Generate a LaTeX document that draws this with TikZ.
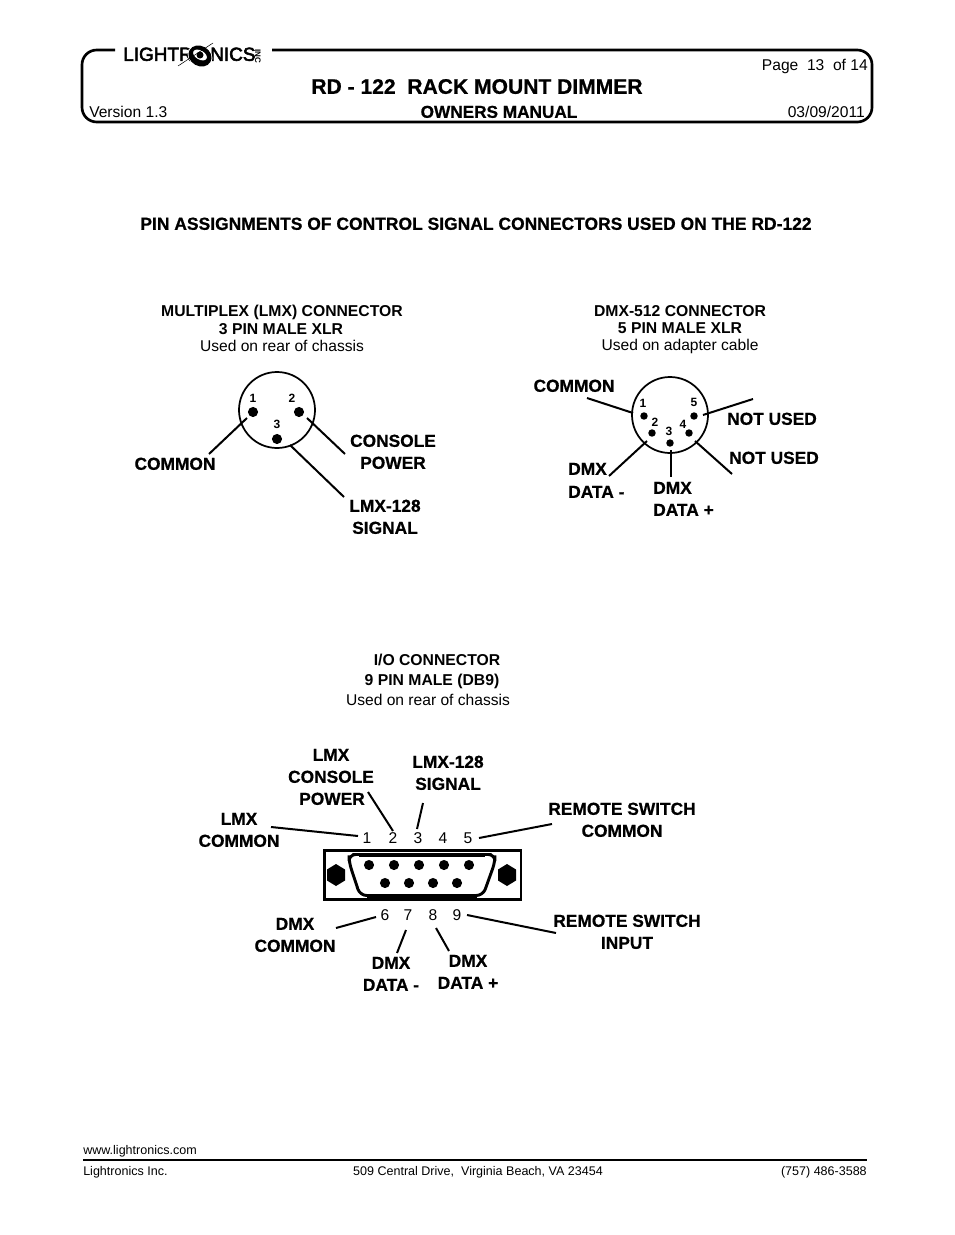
\documentclass[tikz,border=0pt]{standalone}
\usepackage{fontspec}
\setmainfont{Liberation Sans}
\newfontfamily\hb[FakeBold=0.7]{Liberation Sans Bold}
\newfontfamily\logof[FakeBold=3]{Liberation Sans}
\tikzset{
 x=0.75pt,y=-0.75pt,
 lead/.style={line width=1.5pt,line cap=butt},
 tb0/.style={inner sep=0pt,text height=.72em,text depth=0pt},
 tb/.style={tb0,yshift=-0.75pt},
 txt/.style={tb,font=\fontsize{11.7}{13}\selectfont,text=black},
 hd/.style={tb,font=\fontsize{11.8}{13}\selectfont\bfseries},
 lab/.style={tb,font=\fontsize{13}{14}\selectfont\hb},
 foot/.style={tb,font=\fontsize{9.4}{10}\selectfont},
 pinno/.style={tb0,font=\fontsize{9}{10}\selectfont\bfseries},
 dbno/.style={tb,font=\fontsize{11.7}{13}\selectfont},
 pin/.style={fill=black,circle,inner sep=0pt},
 shellc/.style={draw=black,line width=1.3pt,circle,inner sep=0pt,minimum size=57pt},
 hexa/.style={fill=black},
}
\begin{document}
\begin{tikzpicture}
\useasboundingbox (0,0) rectangle (954,1235);
% header frame
\coordinate (fa) at (115,50);
\coordinate (fb) at (272,50);
\draw[line width=2pt,rounded corners=11pt] (fa) -- (82,50) -- (82,122) -- (872,122) -- (872,50) -- (fb);
% logo
\node[tb0,anchor=west,font=\fontsize{14.2}{15}\selectfont\logof] (lg1) at (123,56) {LIGHTR};
\node[tb0,anchor=west,font=\fontsize{14.2}{15}\selectfont\logof] (lg2) at (210,56) {NICS};
\node[tb0,rotate=-90,font=\fontsize{6}{6}\selectfont\bfseries] (lg3) at (260,56) {INC};
\fill[white,rotate around={-30:(200,56)}] (200,56) ellipse (13 and 10.5);
\fill[black,rotate around={-30:(200,56)}] (200,56) ellipse (12 and 10);
\fill[white,rotate around={-30:(200,55)}] (200,55) ellipse (7.5 and 4.5);
\fill[black] (200,55) circle (3.5);
\draw[line width=0.4pt] (178,66) -- (213,43);
% header text
\node[txt,anchor=east] (pg) at (868,65) {Page\ \ 13\ \ of 14};
\node[tb,font=\fontsize{15.8}{17}\selectfont\hb] (ttl) at (477,88) {RD - 122\ \ RACK MOUNT DIMMER};
\node[txt,anchor=west] (ver) at (89,112) {Version 1.3};
\node[tb,font=\fontsize{12.9}{14}\selectfont\hb] (om) at (499,112) {OWNERS MANUAL};
\node[txt,anchor=east] (dt) at (865,112) {03/09/2011};
\node[tb,font=\fontsize{13.1}{14}\selectfont\hb] (pa) at (476,224) {PIN ASSIGNMENTS OF CONTROL SIGNAL CONNECTORS USED ON THE RD-122};
% LMX titles
\node[hd] (m1) at (282,311) {MULTIPLEX (LMX) CONNECTOR};
\node[hd] (m2) at (281,329) {3 PIN MALE XLR};
\node[txt] (m3) at (282,346) {Used on rear of chassis};
% DMX titles
\node[hd] (d1) at (680,311) {DMX-512 CONNECTOR};
\node[hd] (d2) at (680,328) {5 PIN MALE XLR};
\node[txt] (d3) at (680,345) {Used on adapter cable};
% IO titles
\node[hd] (i1) at (437,660) {I/O CONNECTOR};
\node[hd] (i2) at (432,680) {9 PIN MALE (DB9)};
\node[txt] (i3) at (428,700) {Used on rear of chassis};
% XLR3
\node[shellc] (x3) at (277,410) {};
\foreach \n/\x/\y in {p1/253/412,p2/299/412,p3/277/439}
  \node[pin,minimum size=7.6pt] (\n) at (\x,\y) {};
\node[pinno] (n1) at (253,398) {1};
\node[pinno] (n2) at (292,398) {2};
\node[pinno] (n3) at (277,424) {3};
\coordinate (a1) at (247,418); \coordinate (a2) at (209,454);
\coordinate (b1) at (307,418); \coordinate (b2) at (345,454);
\coordinate (c1) at (290,445); \coordinate (c2) at (344,497);
\draw[lead] (a1)--(a2); \draw[lead] (b1)--(b2); \draw[lead] (c1)--(c2);
\node[lab] (l1) at (175,464) {COMMON};
\node[lab] (l2) at (393,441) {CONSOLE};
\node[lab] (l3) at (393,463) {POWER};
\node[lab] (l4) at (385,506) {LMX-128};
\node[lab] (l5) at (385,528) {SIGNAL};
% XLR5
\node[shellc] (x5) at (670,415) {};
\foreach \n/\x/\y in {q1/644/416,q2/652/433,q3/670/443,q4/689/433,q5/694/416}
  \node[pin,minimum size=5.6pt] (\n) at (\x,\y) {};
\node[pinno] (r1) at (643,403) {1};
\node[pinno] (r2) at (655,422) {2};
\node[pinno] (r3) at (669,431) {3};
\node[pinno] (r4) at (683,424) {4};
\node[pinno] (r5) at (694,402) {5};
\coordinate (e1) at (587,398); \coordinate (e2) at (633,413);
\coordinate (f1) at (703,415); \coordinate (f2) at (753,399);
\coordinate (g1) at (695,441); \coordinate (g2) at (732,474);
\coordinate (h1) at (671,450); \coordinate (h2) at (671,477);
\coordinate (j1) at (647,441); \coordinate (j2) at (609,476);
\draw[lead] (e1)--(e2); \draw[lead] (f1)--(f2); \draw[lead] (g1)--(g2); \draw[lead] (h1)--(h2); \draw[lead] (j1)--(j2);
\node[lab] (s1) at (574,386) {COMMON};
\node[lab] (s2) at (772,419) {NOT USED};
\node[lab] (s3) at (774,458) {NOT USED};
\node[lab,anchor=west] (s4) at (568,469) {DMX};
\node[lab,anchor=west] (s5) at (568,492) {DATA -};
\node[lab,anchor=west] (s6) at (653,488) {DMX};
\node[lab,anchor=west] (s7) at (653,510) {DATA +};
% DB9
\node[draw=black,line width=2pt,inner sep=0pt,minimum width=147.5pt,minimum height=36.5pt] (db) at (422.5,875) {};
\draw[line width=2.2pt,rounded corners=5pt] (359,854.5) -- (349,854.5) -- (349,862) -- (360,895.5) -- (483,895.5) -- (495,862) -- (495,854.5) -- (485,854.5) -- cycle;
\coordinate (sa) at (359,854.5); \coordinate (sb) at (485,854.5);
\coordinate (sc) at (367,895.5); \coordinate (sd) at (477,895.5);
\draw[line width=3pt] (sa)--(sb); \draw[line width=3pt] (sc)--(sd);
\foreach \n/\x in {t1/369,t2/394,t3/419,t4/444,t5/469}
  \node[pin,minimum size=7.6pt] (\n) at (\x,865) {};
\foreach \n/\x in {u1/385,u2/409,u3/433,u4/457}
  \node[pin,minimum size=7.6pt] (\n) at (\x,883) {};
\fill[hexa] (336,864) -- (345,869.5) -- (345,880.5) -- (336,886) -- (327,880.5) -- (327,869.5) -- cycle;
\fill[hexa] (507,864) -- (516,869.5) -- (516,880.5) -- (507,886) -- (498,880.5) -- (498,869.5) -- cycle;
\foreach \n/\t/\x in {v1/1/367,v2/2/393,v3/3/418,v4/4/443,v5/5/468}
  \node[dbno] (\n) at (\x,838) {\t};
\foreach \n/\t/\x in {w6/6/385,w7/7/408,w8/8/433,w9/9/457}
  \node[dbno] (\n) at (\x,915) {\t};
\coordinate (k1) at (271,827); \coordinate (k2) at (358,836);
\coordinate (k3) at (368,792); \coordinate (k4) at (393,831);
\coordinate (k5) at (423,803); \coordinate (k6) at (417,829);
\coordinate (k7) at (552,824); \coordinate (k8) at (479,838);
\coordinate (k9) at (376,917); \coordinate (k10) at (336,928);
\coordinate (k11) at (406,930); \coordinate (k12) at (397,953);
\coordinate (k13) at (436,928); \coordinate (k14) at (449,951);
\coordinate (k15) at (467,915); \coordinate (k16) at (556,933);
\draw[lead] (k1)--(k2); \draw[lead] (k3)--(k4); \draw[lead] (k5)--(k6); \draw[lead] (k7)--(k8);
\draw[lead] (k9)--(k10); \draw[lead] (k11)--(k12); \draw[lead] (k13)--(k14); \draw[lead] (k15)--(k16);
\node[lab] (z1) at (331,755) {LMX};
\node[lab] (z2) at (331,777) {CONSOLE};
\node[lab] (z3) at (332,799) {POWER};
\node[lab] (z4) at (448,762) {LMX-128};
\node[lab] (z5) at (448,784) {SIGNAL};
\node[lab] (z6) at (239,819) {LMX};
\node[lab] (z7) at (239,841) {COMMON};
\node[lab] (z8) at (622,809) {REMOTE SWITCH};
\node[lab] (z9) at (622,831) {COMMON};
\node[lab] (z10) at (295,924) {DMX};
\node[lab] (z11) at (295,946) {COMMON};
\node[lab] (z12) at (391,963) {DMX};
\node[lab] (z13) at (391,985) {DATA -};
\node[lab] (z14) at (468,961) {DMX};
\node[lab] (z15) at (468,983) {DATA +};
\node[lab] (z16) at (627,921) {REMOTE SWITCH};
\node[lab] (z17) at (627,943) {INPUT};
% footer
\node[foot,anchor=west] (w) at (83,1149) {www.lightronics.com};
\coordinate (ra) at (83,1160); \coordinate (rb) at (867,1160);
\draw[line width=1.1pt] (ra)--(rb);
\node[foot,anchor=west] (fl) at (83,1170) {Lightronics Inc.};
\node[foot] (fc) at (478,1170) {509 Central Drive,\ \ Virginia Beach, VA 23454};
\node[foot,anchor=east] (fr) at (867,1170) {(757) 486-3588};
\end{tikzpicture}
\end{document}
